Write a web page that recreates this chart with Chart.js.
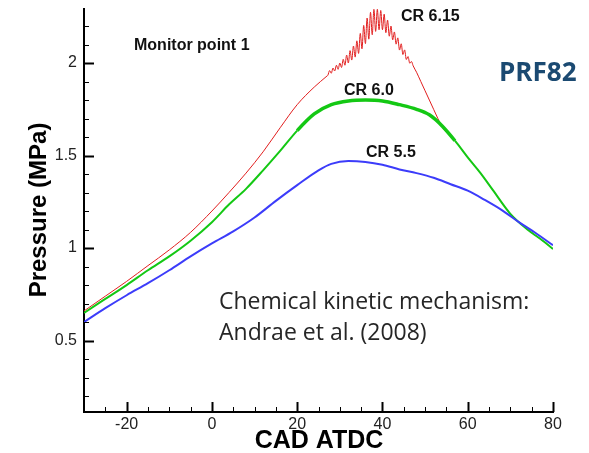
<!DOCTYPE html>
<html>
<head>
<meta charset="utf-8">
<script src="https://cdn.jsdelivr.net/npm/chart.js@4.4.1/dist/chart.umd.min.js"></script>
<style>
  html, body { margin: 0; padding: 0; background: #fff; }
  #wrap { width: 589px; height: 453px; position: relative; }
</style>
</head>
<body>
<div id="wrap"><canvas id="pressureChart"></canvas></div>
<script>
// crank angle (CAD ATDC) and pressure (MPa)
const cadBlue = [-30, -25, -20, -15, -10, -5, 0, 5, 10, 15, 20, 25, 28, 32, 36, 40, 44, 48, 52, 56, 60, 64, 68, 72, 76, 80];
const presBlue = [0.60, 0.675, 0.745, 0.81, 0.88, 0.955, 1.025, 1.09, 1.165, 1.255, 1.34, 1.42, 1.455, 1.47, 1.465, 1.45, 1.425, 1.405, 1.38, 1.345, 1.31, 1.26, 1.205, 1.14, 1.08, 1.015];

const cadGreen = [-30, -25, -20, -15, -10, -5, 0, 4, 8, 12, 16, 20, 24, 28, 32, 36, 40, 44, 48, 51, 54, 57, 60, 63, 66, 70, 74, 77, 80];
const presGreen = [0.65, 0.725, 0.80, 0.88, 0.955, 1.04, 1.14, 1.235, 1.32, 1.42, 1.525, 1.635, 1.725, 1.775, 1.795, 1.80, 1.795, 1.775, 1.75, 1.72, 1.66, 1.58, 1.49, 1.405, 1.31, 1.185, 1.10, 1.05, 0.995];

const cadRed = [-30, -25, -20, -15, -10, -5, 0, 4, 8, 12, 16, 20, 24, 27,
  27.2, 27.6, 28.0, 28.4, 28.8, 29.2, 29.6, 30.0, 30.4, 30.8, 31.2, 31.6, 32.0, 32.4, 32.8, 33.2, 33.6, 34.0, 34.4, 34.8,
  35.2, 35.6, 36.0, 36.4, 36.8, 37.2, 37.6, 38.0, 38.4, 38.8, 39.2, 39.6, 40.0, 40.4, 40.8, 41.2, 41.6, 42.0, 42.4, 42.8,
  43.2, 43.6, 44.0, 44.4, 44.8, 45.2, 45.6, 46.0, 46.4, 46.8, 47.2,
  48, 49, 50, 51, 52, 53, 54, 55, 57, 60, 63, 66, 70, 74, 77, 80];
const presRed = [0.66, 0.74, 0.82, 0.905, 0.99, 1.085, 1.20, 1.30, 1.405, 1.52, 1.65, 1.775, 1.87, 1.93,
  1.934, 1.959, 1.945, 1.973, 1.957, 1.988, 1.966, 2.00, 1.976, 2.02, 1.988, 2.043, 2.00, 2.067, 2.016, 2.092, 2.032, 2.12, 2.052, 2.16,
  2.077, 2.203, 2.105, 2.243, 2.129, 2.274, 2.153, 2.29, 2.171, 2.29, 2.18, 2.284, 2.18, 2.264, 2.164, 2.232, 2.145, 2.20, 2.125, 2.168,
  2.102, 2.136, 2.07, 2.104, 2.046, 2.071, 2.019, 2.035, 1.999, 2.008, 1.985,
  1.95, 1.90, 1.85, 1.80, 1.75, 1.70, 1.655, 1.625, 1.58, 1.49, 1.405, 1.31, 1.185, 1.10, 1.05, 0.995];

const xTicks = [-20, 0, 20, 40, 60, 80];
const xMinor = [-25, -15, -10, -5, 5, 10, 15, 25, 30, 35, 45, 50, 55, 65, 70, 75];
const yTicks = [0.5, 1, 1.5, 2];
const yMinor = [0.2, 0.3, 0.4, 0.6, 0.7, 0.8, 0.9, 1.1, 1.2, 1.3, 1.4, 1.6, 1.7, 1.8, 1.9, 2.1, 2.2];

function toPoints(xs, ys) {
    return xs.map((x, i) => ({ x: x, y: ys[i] }));
}

const boldSmall = 'bold 16px "Liberation Sans", Arial';
const notes = [
    { text: 'Monitor point 1', x: 134, y: 46, font: boldSmall, color: '#111' },
    { text: 'CR 6.15', x: 401, y: 17, font: boldSmall, color: '#111' },
    { text: 'CR 6.0', x: 344, y: 91, font: boldSmall, color: '#111' },
    { text: 'CR 5.5', x: 366, y: 153, font: boldSmall, color: '#111' },
    { text: 'PRF82', x: 499, y: 74, font: 'bold 26px "Open Sans"', color: '#1b4a72' },
    { text: 'Chemical kinetic mechanism:', x: 219, y: 302, font: '23px "Open Sans"', color: '#262626' },
    { text: 'Andrae et al. (2008)', x: 219, y: 333, font: '23px "Open Sans"', color: '#262626' }
];

const decorPlugin = {
    id: 'decor',
    afterDraw(chart) {
        const c = chart.ctx;
        const xs = chart.scales.x, ys = chart.scales.y;
        const area = chart.chartArea;
        c.save();
        c.strokeStyle = '#000';
        // inward tick marks
        const tick = (vals, len, w, horiz) => {
            c.lineWidth = w;
            vals.forEach(v => {
                c.beginPath();
                if (horiz) {
                    const p = Math.round(xs.getPixelForValue(v)) + 0.5;
                    c.moveTo(p, area.bottom);
                    c.lineTo(p, area.bottom - len);
                } else {
                    const p = Math.round(ys.getPixelForValue(v)) + 0.5;
                    c.moveTo(area.left, p);
                    c.lineTo(area.left + len, p);
                }
                c.stroke();
            });
        };
        tick(xTicks, 10, 2, true);
        tick(xMinor, 5, 1, true);
        tick(yTicks, 10, 2, false);
        tick(yMinor, 5, 1, false);

        // tick labels
        c.fillStyle = '#222';
        c.font = '16px "Liberation Sans", Arial';
        c.textBaseline = 'middle';
        c.textAlign = 'center';
        xTicks.forEach(v => c.fillText(String(v), xs.getPixelForValue(v), area.bottom + 13));
        c.textAlign = 'right';
        yTicks.forEach(v => c.fillText(String(v), area.left - 7, ys.getPixelForValue(v)));

        // axis titles
        c.fillStyle = '#000';
        c.font = 'bold 25px "Liberation Sans", Arial';
        c.textAlign = 'center';
        c.fillText('CAD ATDC', 319, 441);
        c.font = 'bold 24px "Liberation Sans", Arial';
        c.translate(39, 210);
        c.rotate(-Math.PI / 2);
        c.fillText('Pressure (MPa)', 0, 0);
        c.restore();

        c.save();
        c.textAlign = 'left';
        c.textBaseline = 'middle';
        notes.forEach(n => {
            c.font = n.font;
            c.fillStyle = n.color;
            c.fillText(n.text, n.x, n.y);
        });
        c.restore();
    }
};

const ctx = document.getElementById('pressureChart').getContext('2d');
const chart = new Chart(ctx, {
    type: 'line',
    data: {
        datasets: [
            {
                label: 'CR 5.5',
                data: toPoints(cadBlue, presBlue),
                borderColor: 'rgb(60, 60, 250)',
                borderWidth: 2,
                order: 1
            },
            {
                label: 'CR 6.0',
                data: toPoints(cadGreen, presGreen),
                borderColor: 'rgb(20, 200, 20)',
                borderWidth: 2,
                segment: {
                    borderWidth: s => (s.p0.parsed.x >= 20 && s.p1.parsed.x <= 57) ? 3.5 : 2
                },
                order: 2
            },
            {
                label: 'CR 6.15',
                data: toPoints(cadRed, presRed),
                borderColor: 'rgb(225, 30, 30)',
                borderWidth: 1,
                order: 3
            }
        ]
    },
    options: {
        responsive: true,
        maintainAspectRatio: false,
        animation: false,
        cubicInterpolationMode: 'monotone',
        elements: { point: { radius: 0 } },
        layout: { padding: { top: 9, right: 36, left: 0, bottom: 0 } },
        plugins: { legend: { display: false }, tooltip: { enabled: false } },
        scales: {
            x: {
                type: 'linear',
                min: -30,
                max: 80,
                grid: { display: false },
                border: { display: true, color: '#000', width: 2 },
                ticks: { display: false },
                afterFit: s => { s.height = 41; }
            },
            y: {
                type: 'linear',
                min: 0.114,
                max: 2.292,
                grid: { display: false },
                border: { display: true, color: '#000', width: 2 },
                ticks: { display: false },
                afterFit: s => { s.width = 84; }
            }
        }
    },
    plugins: [decorPlugin]
});
</script>
</body>
</html>
